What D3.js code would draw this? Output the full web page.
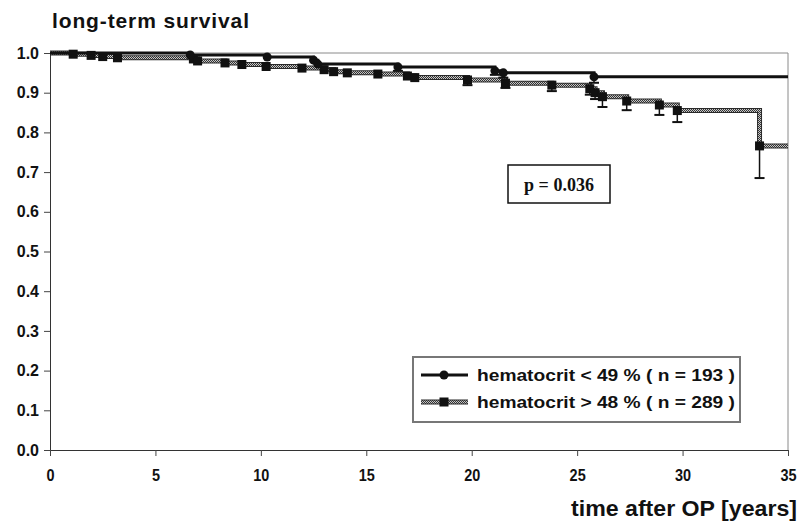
<!DOCTYPE html>
<html>
<head>
<meta charset="utf-8">
<script src="https://cdn.jsdelivr.net/npm/d3@7"></script>
<style>
  body { margin: 0; background: #fff; }
</style>
</head>
<body>
<div id="contents"></div>
<script>
// hematocrit < 49 % : event times (years) and survival after each event
var lowTimes = [0, 6.65, 10.3, 12.5, 12.7, 16.5, 21.1, 21.5, 25.8];
var lowSurv  = [1.0, 0.995, 0.990, 0.982, 0.972, 0.965, 0.955, 0.950, 0.940];
var lowLower = [null, null, null, null, null, 0.955, 0.945, 0.938, 0.925];

// hematocrit > 48 %
var highTimes = [0, 1.1, 1.95, 2.5, 3.2, 6.8, 7.0, 8.3, 9.1, 10.25, 11.95, 13.0, 13.45, 14.1,
                 15.55, 16.95, 17.3, 19.8, 21.6, 23.8, 25.6, 25.85, 26.2, 27.35, 28.9, 29.75, 33.65];
var highSurv  = [1.0, 0.997, 0.994, 0.991, 0.988, 0.985, 0.980, 0.975, 0.971, 0.966, 0.962, 0.958, 0.953, 0.950,
                 0.947, 0.942, 0.938, 0.932, 0.924, 0.919, 0.910, 0.900, 0.890, 0.879, 0.869, 0.855, 0.766];
var highLower = [null, null, null, null, null, null, null, null, null, null, null, null, null, null,
                 null, null, null, 0.919, 0.912, 0.904, 0.895, 0.884, 0.864, 0.856, 0.844, 0.826, 0.685];

var xTicks = [0, 5, 10, 15, 20, 25, 30, 35];
var yTicks = [0, 0.1, 0.2, 0.3, 0.4, 0.5, 0.6, 0.7, 0.8, 0.9, 1.0];
var legendLabels = ["hematocrit < 49 % ( n = 193 )", "hematocrit > 48 % ( n = 289 )"];
var pText = "p = 0.036";
var maxTime = 35;

var W = 808, H = 524;
var L = 50, R = 788, T = 53, B = 450;
var SANS = "'Liberation Sans', Arial, Helvetica, sans-serif";

var svg = d3.select("#contents").append("svg")
	.attr("width", W).attr("height", H);

var defs = svg.append("defs");
var pat = defs.append("pattern").attr("id", "dots")
	.attr("width", 2).attr("height", 2).attr("patternUnits", "userSpaceOnUse");
pat.append("rect").attr("width", 2).attr("height", 2).attr("fill", "#c8c8c8");
pat.append("rect").attr("width", 1).attr("height", 1).attr("fill", "#333");
pat.append("rect").attr("x", 1).attr("y", 1).attr("width", 1).attr("height", 1).attr("fill", "#333");

var x = d3.scaleLinear().domain([0, 35]).range([L, R]);
var y = d3.scaleLinear().domain([0, 1]).range([B, T]);

function boldText(sel, size, family) {
	return sel.style("font-family", family || SANS).style("font-weight", "bold")
		.style("font-size", size + "px").attr("fill", "#111");
}
// squeeze glyphs a bit, the original uses a narrow face
function narrow(sel, k) {
	sel.each(function() {
		var w = this.getComputedTextLength();
		d3.select(this).attr("textLength", w * k).attr("lengthAdjust", "spacingAndGlyphs");
	});
}

// title
boldText(svg.append("text").attr("x", 52).attr("y", 28), 21)
	.attr("textLength", 197).attr("lengthAdjust", "spacing")
	.text("long-term survival");

// frame (top, right)
svg.append("path").attr("d", "M" + L + "," + T + "H" + R + "V" + B)
	.attr("fill", "none").attr("stroke", "#8a8a8a").attr("stroke-width", 1);

// axes
var yAxis = svg.append("g").attr("transform", "translate(" + L + ",0)")
	.call(d3.axisLeft(y).tickValues(yTicks).tickFormat(d3.format(".1f")).tickSize(6).tickPadding(5));
var xAxis = svg.append("g").attr("transform", "translate(0," + B + ")")
	.call(d3.axisBottom(x).tickValues(xTicks).tickSize(6).tickPadding(13));
[yAxis, xAxis].forEach(function(g) {
	g.select(".domain").attr("stroke", "#333");
	g.selectAll(".tick line").attr("stroke", "#444");
});
boldText(yAxis.selectAll("text"), 16);
boldText(xAxis.selectAll("text"), 17);
narrow(xAxis.selectAll("text"), 0.85);

boldText(svg.append("text").attr("x", 797).attr("y", 516).attr("text-anchor", "end"), 22)
	.attr("textLength", 226).attr("lengthAdjust", "spacingAndGlyphs")
	.text("time after OP [years]");

function toPoints(times, surv, lower) {
	return times.map(function(t, i) { return { t: t, s: surv[i], lo: lower[i] }; });
}
var lowPts = toPoints(lowTimes, lowSurv, lowLower);
var highPts = toPoints(highTimes, highSurv, highLower);

var line = d3.line().curve(d3.curveStepAfter)
	.x(function(d) { return x(d.t); }).y(function(d) { return y(d.s); });
function withEnd(pts) {
	return pts.concat([{ t: maxTime, s: pts[pts.length - 1].s }]);
}

function errorBars(pts) {
	var g = svg.append("g").attr("stroke", "#111").attr("stroke-width", 1.5);
	pts.filter(function(d) { return d.lo != null; }).forEach(function(d) {
		g.append("line").attr("x1", x(d.t)).attr("x2", x(d.t))
			.attr("y1", y(d.s)).attr("y2", y(d.lo));
		g.append("line").attr("x1", x(d.t) - 5).attr("x2", x(d.t) + 5)
			.attr("y1", y(d.lo)).attr("y2", y(d.lo)).attr("stroke-width", 2);
	});
}

// high hematocrit (gray patterned line, squares)
errorBars(highPts);
svg.append("path").datum(withEnd(highPts)).attr("d", line)
	.attr("fill", "none").attr("stroke", "#2a2a2a").attr("stroke-width", 5);
svg.append("path").datum(withEnd(highPts)).attr("d", line)
	.attr("fill", "none").attr("stroke", "url(#dots)").attr("stroke-width", 3);
svg.append("g").selectAll("rect").data(highPts.slice(1)).enter().append("rect")
	.attr("x", function(d) { return x(d.t) - 4.5; })
	.attr("y", function(d) { return y(d.s) - 4.5; })
	.attr("width", 9).attr("height", 9).attr("fill", "#111");

// low hematocrit (black line, circles)
errorBars(lowPts);
svg.append("path").datum(withEnd(lowPts)).attr("d", line)
	.attr("fill", "none").attr("stroke", "#111").attr("stroke-width", 3);
svg.append("g").selectAll("circle").data(lowPts.slice(1)).enter().append("circle")
	.attr("cx", function(d) { return x(d.t); })
	.attr("cy", function(d) { return y(d.s); })
	.attr("r", 4.5).attr("fill", "#111");

// p value box
svg.append("rect").attr("x", 508).attr("y", 165).attr("width", 102).attr("height", 38)
	.attr("fill", "#fff").attr("stroke", "#111").attr("stroke-width", 1.5);
boldText(svg.append("text").attr("x", 559).attr("y", 191).attr("text-anchor", "middle"),
	18, "'Liberation Serif', 'Times New Roman', serif")
	.text(pText);

// legend
var lg = svg.append("g");
lg.append("rect").attr("x", 413).attr("y", 357).attr("width", 327).attr("height", 65)
	.attr("fill", "#fff").attr("stroke", "#777").attr("stroke-width", 2);
legendLabels.forEach(function(label, i) {
	var ly = 375 + i * 27;
	if (i == 0) {
		lg.append("line").attr("x1", 421).attr("x2", 468).attr("y1", ly).attr("y2", ly)
			.attr("stroke", "#111").attr("stroke-width", 3);
		lg.append("circle").attr("cx", 444).attr("cy", ly).attr("r", 4.5).attr("fill", "#111");
	} else {
		lg.append("line").attr("x1", 421).attr("x2", 468).attr("y1", ly).attr("y2", ly)
			.attr("stroke", "#2a2a2a").attr("stroke-width", 5);
		lg.append("line").attr("x1", 421).attr("x2", 468).attr("y1", ly).attr("y2", ly)
			.attr("stroke", "url(#dots)").attr("stroke-width", 3);
		lg.append("rect").attr("x", 439.5).attr("y", ly - 4.5).attr("width", 9).attr("height", 9)
			.attr("fill", "#111");
	}
	boldText(lg.append("text").attr("x", 477).attr("y", ly + 6), 17)
		.attr("textLength", 258).attr("lengthAdjust", "spacingAndGlyphs").text(label);
});
</script>
</body>
</html>
